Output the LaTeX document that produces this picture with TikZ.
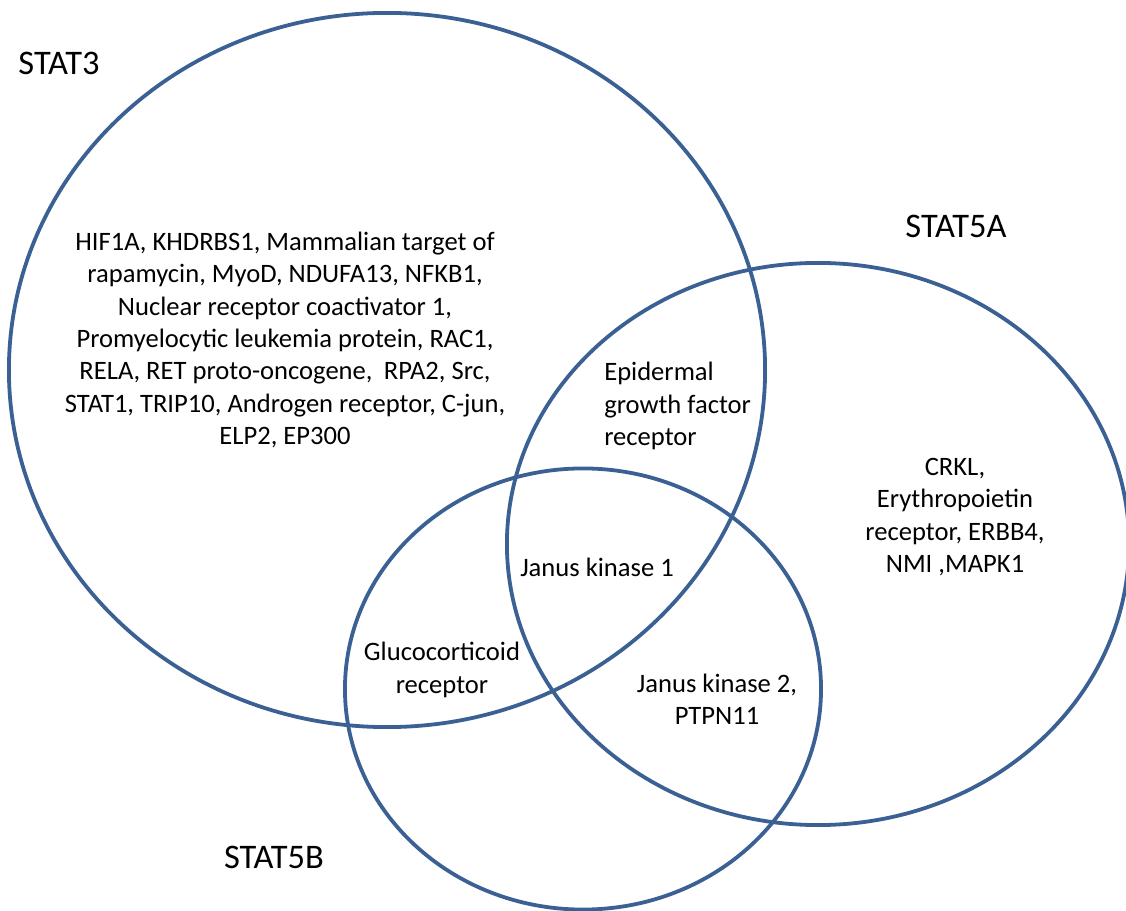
\documentclass[tikz,border=0pt]{standalone}
\usepackage{fontspec}
\setmainfont{Carlito}
\usetikzlibrary{shapes.geometric}
\definecolor{setblue}{HTML}{3A6094}

\begin{document}
\begin{tikzpicture}[
    x=0.025cm, y=-0.025cm,
    set/.style={
        ellipse,
        draw=setblue,
        line width=2.7pt,
        inner sep=0pt
    },
    setname/.style={inner sep=0pt, font=\fontsize{24.5}{29}\selectfont},
    genes/.style={align=center, inner sep=0pt, font=\fontsize{18.9}{23}\selectfont}
]
    \useasboundingbox (0,0) rectangle (1126,911);

    % the three sets
    \node[set, minimum width=18.9cm, minimum height=17.85cm] (stat3) at (387,370) {};
    \node[set, minimum width=15.55cm, minimum height=14.05cm] (stat5a) at (818,544) {};
    \node[set, minimum width=11.9cm, minimum height=11.025cm] (stat5b) at (583,689) {};

    \node[setname] (lab3) at (59,63) {STAT3};
    \node[setname] (lab5a) at (956,226) {STAT5A};
    \node[setname] (lab5b) at (274,857) {STAT5B};

    % members of each region
    \node[genes] (only3) at (285,340) {HIF1A, KHDRBS1, Mammalian target of\\
        rapamycin, MyoD, NDUFA13, NFKB1,\\
        Nuclear receptor coactivator 1,\\
        Promyelocytic leukemia protein, RAC1,\\
        RELA, RET proto-oncogene,\hspace{0.2em} RPA2, Src,\\
        STAT1, TRIP10, Androgen receptor, C-jun,\\
        ELP2, EP300};
    \node[genes, align=left, anchor=west] (egfr) at (604,406) {Epidermal\\growth factor\\receptor};
    \node[genes] (only5a) at (955,517) {CRKL,\\Erythropoietin\\receptor, ERBB4,\\NMI ,MAPK1};
    \node[genes] (jak1) at (597,567) {Janus kinase 1};
    \node[genes] (gr) at (442,670) {Glucocorticoid\\receptor};
    \node[genes] (jak2) at (717,699) {Janus kinase 2,\\PTPN11};
\end{tikzpicture}
\end{document}
